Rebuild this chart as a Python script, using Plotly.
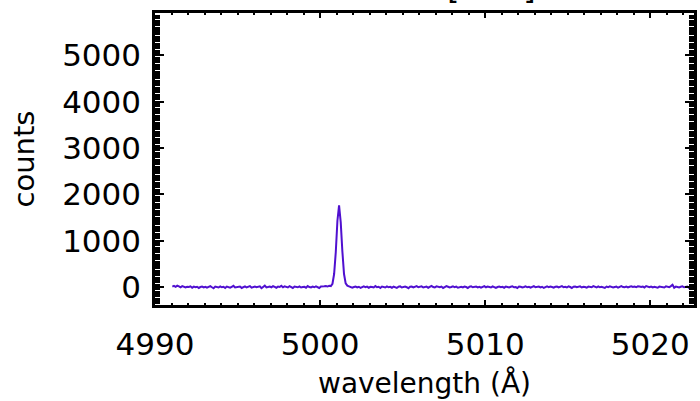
import numpy as np
import plotly.graph_objects as go

# wavelength grid: start and step of the sampled spectrum (Angstrom)
wl_start = 4991.05
wl_step = 0.1

counts_pre = [
    10, 25, 5, 30, 15, -5, 20, 10, -10, 5, 0, 15, -15, 10, -5, 5, -20, 0, 10, -10,
    5, -15, 0, 20, -5, -25, 10, 0, -10, 15, -5, 5, -20, 10, 0, -15, 5, 25, -10, 0,
    -5, 10, -20, 5, 15, -10, 0, 20, -15, 5, 10, -5, 0, 15, -25, 5, 30, -10, 0, 10,
    -5, 20, 5, -15, 10, 0, 25, -5, 15, 5, -10, 20, 0, -20, 10, 5, -5, 15, -10, 0,
    5, -15, 20, 0, -10, 10, -5, 15, 0, -20, 10, 5, 15, 20, 10,
]
counts_line = [25, 20, 70, 280, 750, 1430, 1760, 1400, 770, 280, 80, 30, 15]
counts_post = [
    -5, -15, 0, 10, -10, 5, -20, 0, 15, -5, 10, -15, 5, 0, -10, 20, -5, 5, -20, 10,
    0, -10, 15, -5, 5, -15, 10, 0, -20, 5, 15, -10, 0, 10, -5, -25, 5, 10, -10, 0,
    20, -5, 5, 15, -10, 0, 10, -15, 5, 25, 0, -10, 15, 5, -5, 10, -20, 0, 20, 5,
    -10, 0, 15, -5, 10, -15, 0, 5, -10, 10, 0, -20, 5, 15, -5, 0, 10, -10, 5, -15,
    0, 20, -5, 10, 0, -10, 15, 5, -20, 0, 10, -5, 5, -15, 10, 0, -10, 5, 15, -5,
    0, -20, 10, 5, -10, 0, 15, -5, 5, -15, 10, 20, -5, 0, 10, -10, 5, -20, 0, 15,
    -5, 10, 0, -15, 5, 10, -10, 0, 20, -5, 5, -10, 15, 0, -20, 5, 10, -5, 0, 15,
    -10, 5, 0, -15, 10, 5, -5, 20, 0, -10, 15, -5, 5, 0, -20, 10, -5, 15, 5, -10,
    0, 10, -15, 5, 20, 0, -5, 10, -10, 5, 15, 0, 10, -5, 15, 10, 0, 10, -10, 20,
    5, -5, 10, -10, 5, 0,
    -15, 10, 0, 5, -10, 15, 0, -5, 20, 50, -15, 10, 0, -10, 5, 15, -5, 0, 10, -20,
    5, 0, 15, -5, 10, 0, 5, -10, 10, 0, -5, 15, 5, -10, 10,
]
counts = counts_pre + counts_line + counts_post
wavelength = np.round(wl_start + wl_step * np.arange(len(counts)), 2)

x_ticks = [4990, 5000, 5010, 5020]
y_ticks = [0, 1000, 2000, 3000, 4000, 5000]
x_range = [4990, 5022.65]
y_range = [-388, 5913]

FONT = "DejaVu Sans"

fig = go.Figure()
fig.add_trace(go.Scatter(x=wavelength, y=counts, mode="lines",
                         line=dict(color="#5010D0", width=2)))

axis_common = dict(
    showline=True, linecolor="black", linewidth=2.5, mirror="ticks",
    ticks="inside", tickcolor="black", tickwidth=2,
    showgrid=False, zeroline=False,
    tickfont=dict(family=FONT, size=31, color="black"),
)
fig.update_xaxes(
    **axis_common, range=x_range, tickvals=x_ticks, ticklen=5,
    minor=dict(dtick=1, ticks="inside", ticklen=2.5, tickwidth=2, tickcolor="black", showgrid=False),
    title=dict(text="wavelength (Å)", font=dict(family=FONT, size=28, color="black"), standoff=13),
    ticklabelstandoff=10,
)
fig.update_yaxes(
    **axis_common, range=y_range, tickvals=y_ticks, ticklen=9,
    minor=dict(dtick=50, ticks="inside", ticklen=5, tickwidth=1.5, tickcolor="black", showgrid=False),
    title=dict(text="counts", font=dict(family=FONT, size=29, color="black"), standoff=19),
    ticklabelstandoff=5,
)
fig.add_annotation(text="[O III]", xref="paper", yref="paper", x=0.71, y=1.0,
                   yanchor="bottom", showarrow=False, yshift=5,
                   font=dict(family=FONT, size=32, color="black"))
fig.update_layout(
    width=700, height=401, margin=dict(l=155, r=3, t=13, b=96),
    plot_bgcolor="white", paper_bgcolor="white", showlegend=False,
)
fig.write_html("out.html")
